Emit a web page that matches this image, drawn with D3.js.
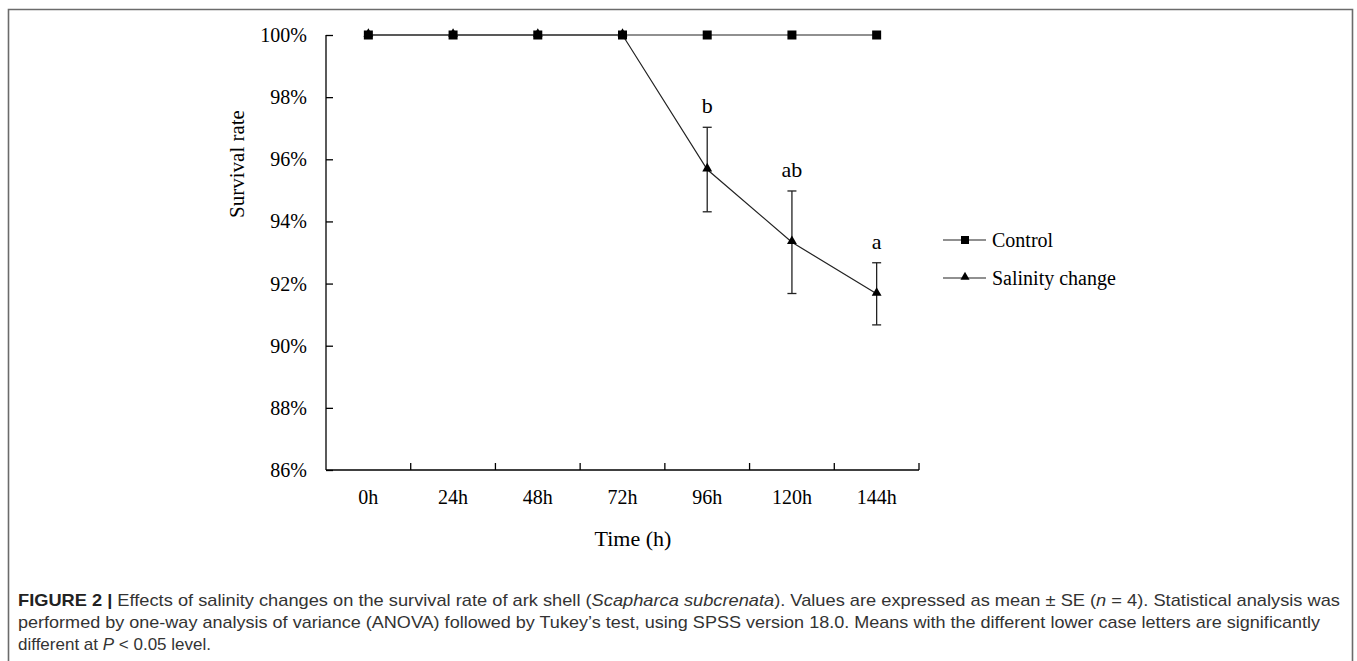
<!DOCTYPE html>
<html>
<head>
<meta charset="utf-8">
<script src="https://cdn.jsdelivr.net/npm/d3@7"></script>
<style>
  html, body { margin: 0; padding: 0; background: #fff; }
  svg { display: block; }
</style>
</head>
<body>
<svg id="chart" width="1357" height="661"></svg>
<script>
// ---- data ----
const categories = ["0h", "24h", "48h", "72h", "96h", "120h", "144h"];
const controlValues = [1.0, 1.0, 1.0, 1.0, 1.0, 1.0, 1.0];
const salinityValues = [1.0, 1.0, 1.0, 1.0, 0.9567, 0.9333, 0.9167];
const salinitySE = [0, 0, 0, 0, 0.0136, 0.0165, 0.0100];
const salinityLetters = ["", "", "", "", "b", "ab", "a"];
const yTicks = [0.86, 0.88, 0.90, 0.92, 0.94, 0.96, 0.98, 1.00];
const seriesNames = ["Control", "Salinity change"];
const captionLines = [
  [{t: "FIGURE 2 | ", b: true}, {t: "Effects of salinity changes on the survival rate of ark shell ("}, {t: "Scapharca subcrenata", i: true}, {t: "). Values are expressed as mean \u00B1 SE ("}, {t: "n", i: true}, {t: " = 4). Statistical analysis was"}],
  [{t: "performed by one-way analysis of variance (ANOVA) followed by Tukey\u2019s test, using SPSS version 18.0. Means with the different lower case letters are significantly"}],
  [{t: "different at "}, {t: "P", i: true}, {t: " < 0.05 level."}]
];

const svg = d3.select("#chart");
const serif = "'Liberation Serif', 'Times New Roman', serif";
const sans = "'Liberation Sans', Arial, sans-serif";

// frame
svg.append("path")
  .attr("d", "M8.5,661 L8.5,9.5 L1352.5,9.5 L1352.5,661")
  .attr("fill", "none").attr("stroke", "#6b6b6b").attr("stroke-width", 1.6);

const x = d3.scaleBand().domain(categories).range([326, 919]).padding(0);
const y = d3.scaleLinear().domain([0.86, 1.0]).range([470, 35]);

// y axis
const yAxis = svg.append("g").attr("transform", "translate(326,0)")
  .call(d3.axisRight(y).tickValues(yTicks).tickSize(7).tickFormat(""));
yAxis.select(".domain").attr("d", `M0,${y(0.86)}V${y(1.0)}`);
yAxis.selectAll("line, path").attr("stroke", "#000").attr("stroke-width", 1.3);

svg.append("g").selectAll("text").data(yTicks).join("text")
  .attr("x", 307).attr("y", d => y(d)).attr("dy", "0.35em")
  .attr("text-anchor", "end")
  .attr("font-family", serif).attr("font-size", 20).attr("fill", "#000")
  .text(d => d3.format(".0%")(d));

// x axis
const bounds = categories.map(c => x(c)).concat([x.range()[1]]);
const xAxisG = svg.append("g").attr("transform", `translate(0,${y(0.86)})`);
xAxisG.append("path").attr("d", `M326,0H919`).attr("stroke", "#000").attr("stroke-width", 1.3);
xAxisG.selectAll("line").data(bounds.slice(1)).join("line")
  .attr("x1", d => d).attr("x2", d => d).attr("y1", 0).attr("y2", -7)
  .attr("stroke", "#000").attr("stroke-width", 1.3);
xAxisG.selectAll("text").data(categories).join("text")
  .attr("x", d => x(d) + x.bandwidth() / 2).attr("y", 27).attr("dy", "0.35em")
  .attr("text-anchor", "middle")
  .attr("font-family", serif).attr("font-size", 20).attr("fill", "#000")
  .text(d => d);

// axis titles
svg.append("text")
  .attr("transform", `translate(237,164) rotate(-90)`)
  .attr("text-anchor", "middle").attr("dy", "0.35em")
  .attr("font-family", serif).attr("font-size", 21).attr("fill", "#000")
  .text("Survival rate");
svg.append("text")
  .attr("x", 633).attr("y", 538).attr("dy", "0.35em")
  .attr("text-anchor", "middle")
  .attr("font-family", serif).attr("font-size", 22).attr("fill", "#000")
  .text("Time (h)");

const cx = c => x(c) + x.bandwidth() / 2;
const line = d3.line().x(d => cx(d.c)).y(d => y(d.v));

// salinity series (drawn first, beneath control)
const salData = categories.map((c, i) => ({c, v: salinityValues[i], se: salinitySE[i], l: salinityLetters[i]}));
svg.append("path").datum(salData).attr("d", line)
  .attr("fill", "none").attr("stroke", "#222").attr("stroke-width", 1.2);

// error bars
const eb = svg.append("g").selectAll("g").data(salData.filter(d => d.se > 0)).join("g");
eb.append("line").attr("x1", d => cx(d.c)).attr("x2", d => cx(d.c))
  .attr("y1", d => y(d.v - d.se)).attr("y2", d => y(d.v + d.se))
  .attr("stroke", "#222").attr("stroke-width", 1.3);
eb.append("line").attr("x1", d => cx(d.c) - 4.5).attr("x2", d => cx(d.c) + 4.5)
  .attr("y1", d => y(d.v + d.se)).attr("y2", d => y(d.v + d.se))
  .attr("stroke", "#222").attr("stroke-width", 1.3);
eb.append("line").attr("x1", d => cx(d.c) - 4.5).attr("x2", d => cx(d.c) + 4.5)
  .attr("y1", d => y(d.v - d.se)).attr("y2", d => y(d.v - d.se))
  .attr("stroke", "#222").attr("stroke-width", 1.3);
eb.append("text").attr("x", d => cx(d.c)).attr("y", d => y(d.v + d.se) - 14)
  .attr("text-anchor", "middle")
  .attr("font-family", serif).attr("font-size", 22).attr("fill", "#000")
  .text(d => d.l);

const tri = d3.symbol().type(d3.symbolTriangle).size(42);
svg.append("g").selectAll("path").data(salData).join("path")
  .attr("transform", d => `translate(${cx(d.c)},${y(d.v) - 1})`)
  .attr("d", tri).attr("fill", "#000");

// control series
const ctlData = categories.map((c, i) => ({c, v: controlValues[i]}));
svg.append("path").datum(ctlData).attr("d", line)
  .attr("fill", "none").attr("stroke", "#222").attr("stroke-width", 1.2);
svg.append("g").selectAll("rect").data(ctlData).join("rect")
  .attr("x", d => cx(d.c) - 4.5).attr("y", d => y(d.v) - 4.5)
  .attr("width", 9).attr("height", 9).attr("fill", "#000");

// legend
const legend = svg.append("g");
seriesNames.forEach((name, i) => {
  const ly = 240 + i * 38;
  legend.append("line").attr("x1", 943).attr("x2", 986).attr("y1", ly).attr("y2", ly)
    .attr("stroke", "#222").attr("stroke-width", 1.2);
  if (i === 0) {
    legend.append("rect").attr("x", 961).attr("y", ly - 4).attr("width", 8).attr("height", 8).attr("fill", "#000");
  } else {
    legend.append("path").attr("transform", `translate(965,${ly - 1})`)
      .attr("d", d3.symbol().type(d3.symbolTriangle).size(36)).attr("fill", "#000");
  }
  legend.append("text").attr("x", 992).attr("y", ly).attr("dy", "0.35em")
    .attr("font-family", serif).attr("font-size", 20).attr("fill", "#000")
    .text(name);
});

// caption
const capWidths = [1322, 1302, null];
const cap = svg.append("g");
captionLines.forEach((parts, i) => {
  const t = cap.append("text").attr("x", 18).attr("y", 606 + i * 22)
    .attr("font-family", sans).attr("font-size", 17).attr("fill", "#333");
  if (capWidths[i]) t.attr("textLength", capWidths[i]).attr("lengthAdjust", "spacingAndGlyphs");
  parts.forEach(p => {
    const ts = t.append("tspan").text(p.t);
    if (p.b) ts.attr("font-weight", "bold").attr("fill", "#222");
    if (p.i) ts.attr("font-style", "italic");
  });
});
</script>
</body>
</html>
